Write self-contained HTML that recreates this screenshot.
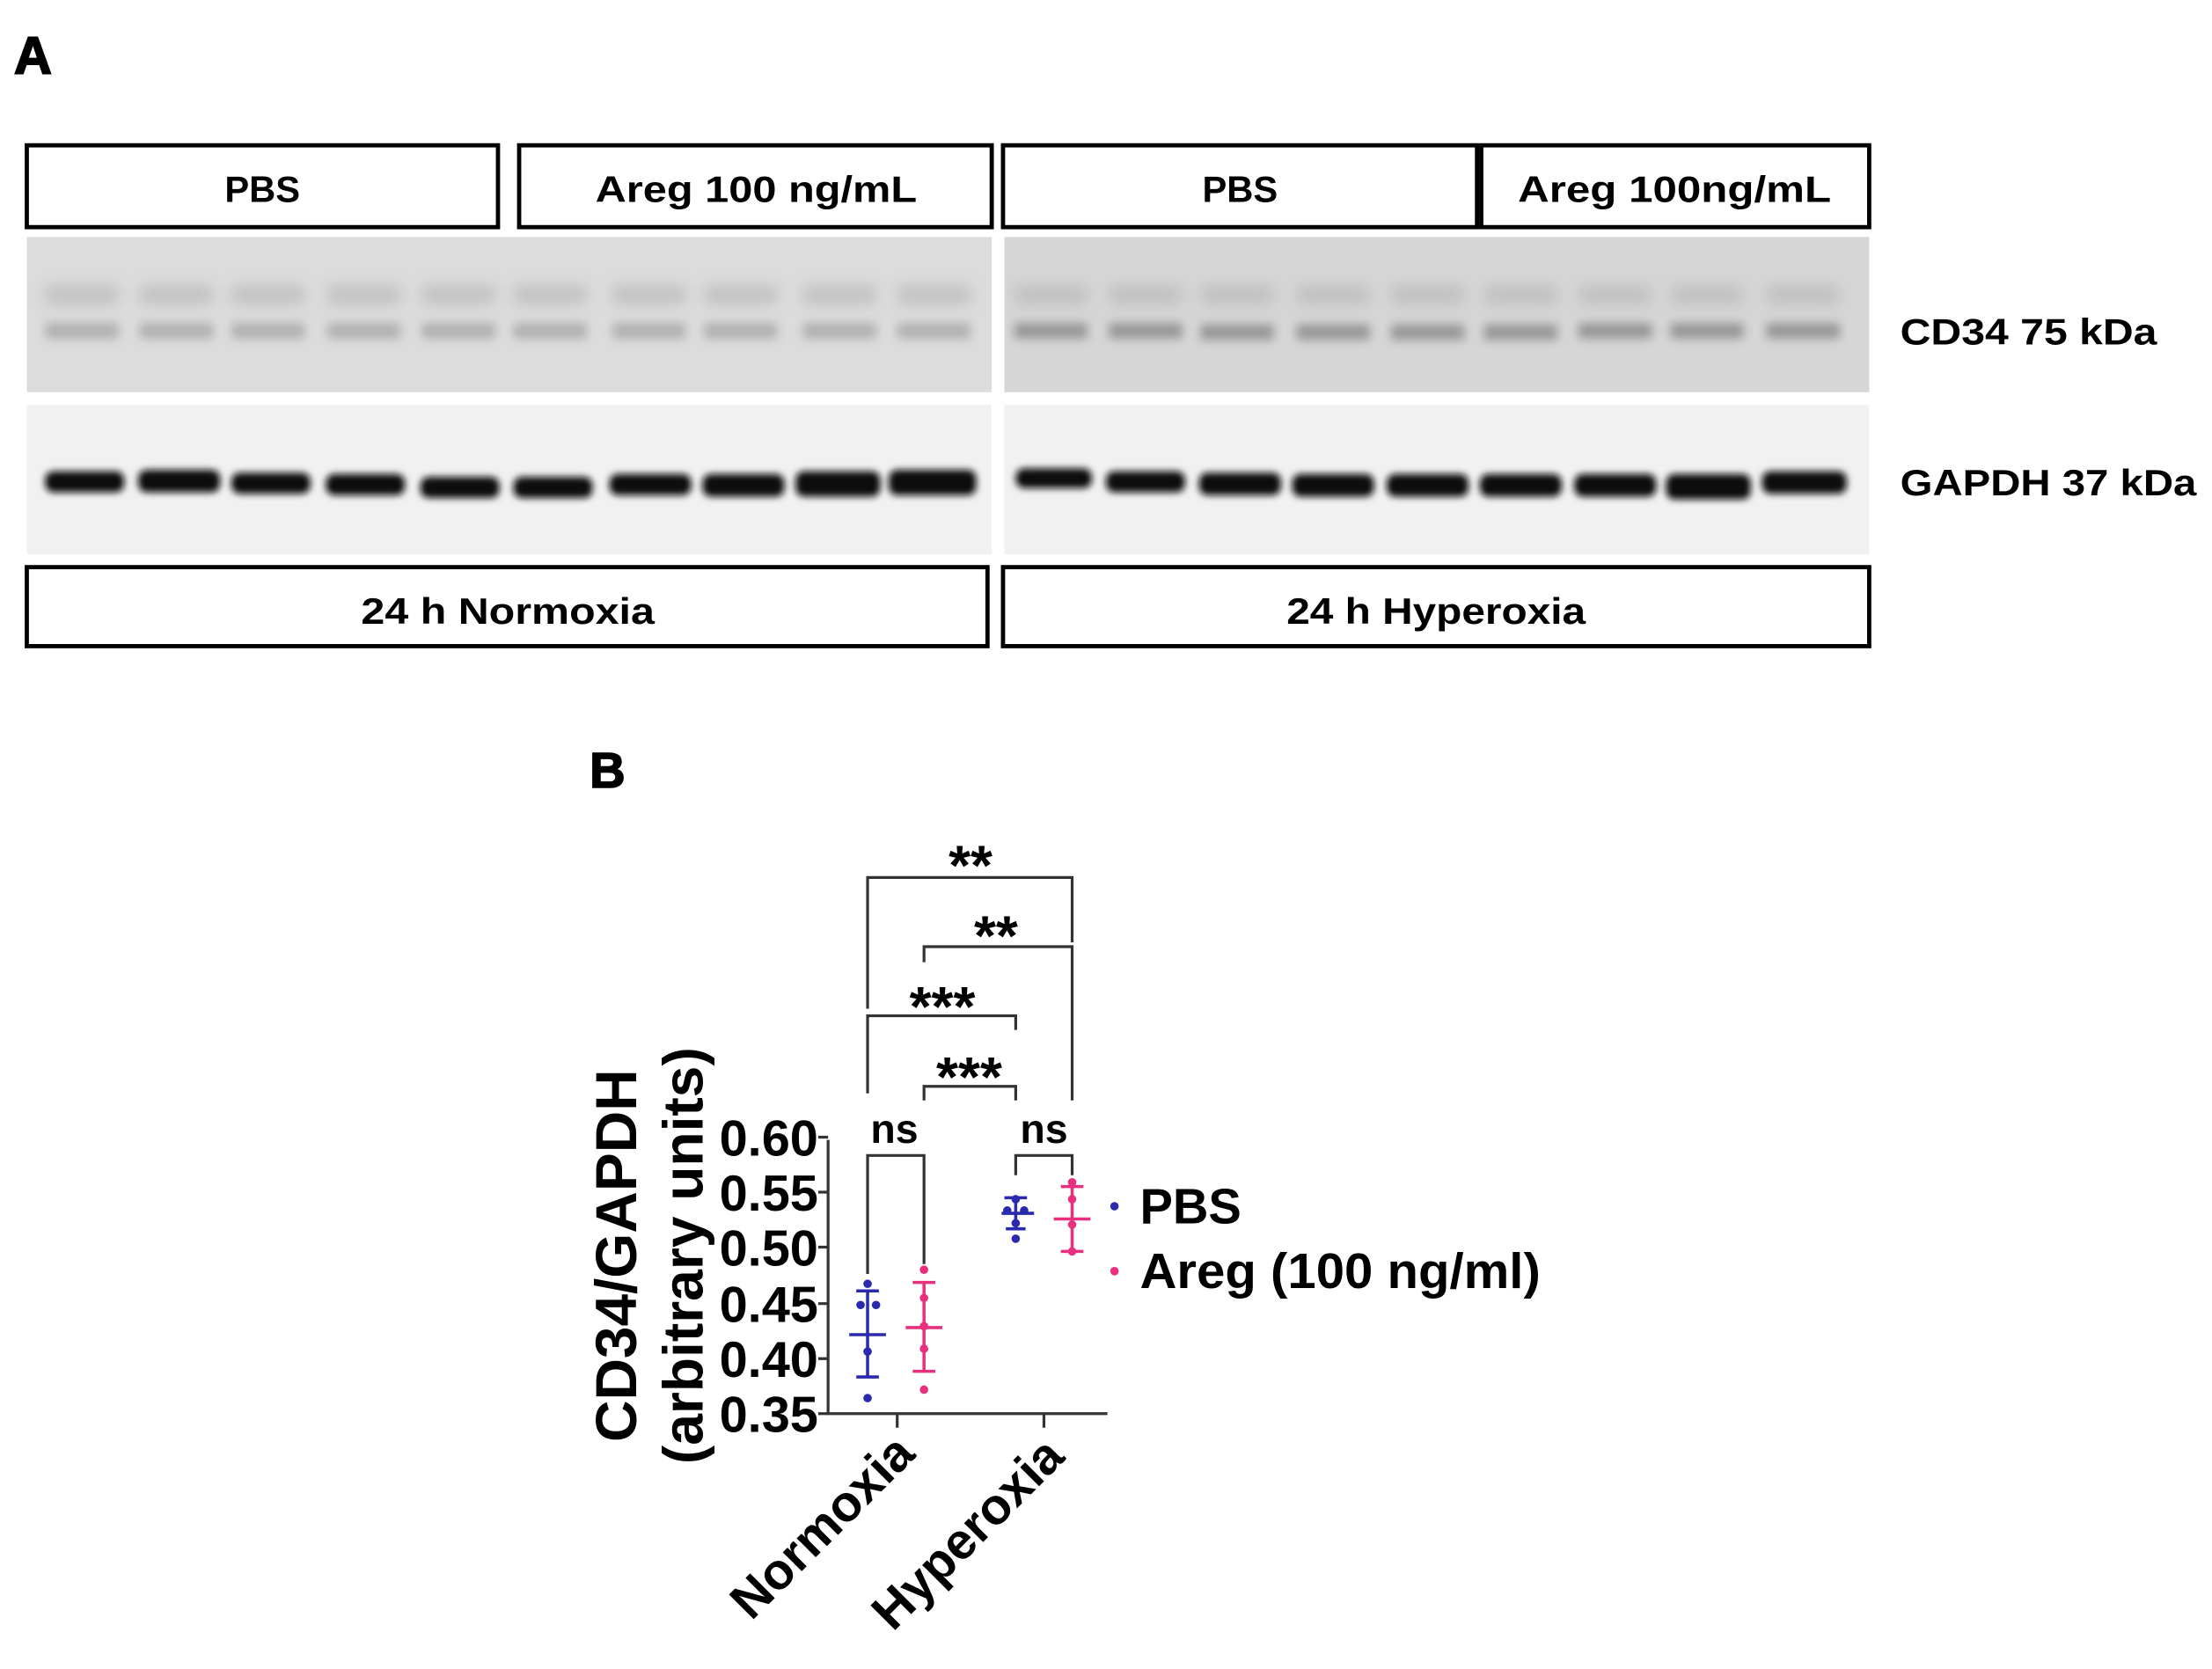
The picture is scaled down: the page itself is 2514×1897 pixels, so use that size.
<!DOCTYPE html>
<html><head><meta charset="utf-8"><style>
html,body{margin:0;padding:0;background:#fff;}
svg{display:block;}
.a{font-family:"Liberation Sans",sans-serif;font-weight:bold;}
</style></head><body>
<svg width="2514" height="1897" viewBox="0 0 1568 1183" preserveAspectRatio="none" xmlns="http://www.w3.org/2000/svg">
<defs>
<filter id="bl" x="-20%" y="-100%" width="140%" height="300%"><feGaussianBlur stdDeviation="2.5"/></filter>
<filter id="bl2" x="-20%" y="-100%" width="140%" height="300%"><feGaussianBlur stdDeviation="5"/></filter>
<filter id="bl3" x="-20%" y="-100%" width="140%" height="300%"><feGaussianBlur stdDeviation="3.5"/></filter>
</defs>
<text x="10" y="52" class="a" font-size="37" stroke="#000" stroke-width="1.2">A</text>
<g fill="#fff" stroke="#000" stroke-width="3">
<rect x="19" y="103" width="334" height="58"/>
<rect x="368" y="103" width="335" height="58"/>
<rect x="711" y="103" width="336" height="58"/>
<rect x="1050" y="103" width="275" height="58"/>
<rect x="19" y="402" width="681" height="56"/>
<rect x="711" y="402" width="614" height="56"/>
</g>
<g class="a" font-size="26" text-anchor="middle">
<text x="186" y="143">PBS</text>
<text x="536" y="143" textLength="228" lengthAdjust="spacingAndGlyphs">Areg 100 ng/mL</text>
<text x="879" y="143">PBS</text>
<text x="1187" y="143" textLength="222" lengthAdjust="spacingAndGlyphs">Areg 100ng/mL</text>
<text x="360" y="442" textLength="208" lengthAdjust="spacingAndGlyphs">24 h Normoxia</text>
<text x="1018" y="442" textLength="212" lengthAdjust="spacingAndGlyphs">24 h Hyperoxia</text>
</g>
<rect x="19" y="168" width="684" height="110" fill="#dcdcdc"/>
<rect x="712" y="168" width="613" height="110" fill="#d6d6d6"/>
<rect x="19" y="287" width="684" height="106" fill="#f1f1f1"/>
<rect x="712" y="287" width="613" height="106" fill="#f1f1f1"/>
<g filter="url(#bl2)" fill="#bcbcbc" opacity="0.8">
<rect x="32" y="202" width="52" height="14"/><rect x="99" y="202" width="52" height="14"/><rect x="164" y="202" width="52" height="14"/><rect x="232" y="202" width="52" height="14"/><rect x="299" y="202" width="52" height="14"/><rect x="364" y="202" width="52" height="14"/><rect x="434" y="202" width="52" height="14"/><rect x="499" y="202" width="52" height="14"/><rect x="569" y="202" width="52" height="14"/><rect x="636" y="202" width="52" height="14"/>
<rect x="719" y="202" width="52" height="14"/><rect x="786" y="202" width="52" height="14"/><rect x="851" y="202" width="52" height="14"/><rect x="919" y="202" width="52" height="14"/><rect x="986" y="202" width="52" height="14"/><rect x="1052" y="202" width="52" height="14"/><rect x="1119" y="202" width="52" height="14"/><rect x="1184" y="202" width="52" height="14"/><rect x="1252" y="202" width="52" height="14"/>
</g>
<g filter="url(#bl3)" fill="#b0b0b0">
<rect x="32" y="229" width="52" height="11"/><rect x="99" y="229" width="52" height="11"/><rect x="164" y="229" width="52" height="11"/><rect x="232" y="229" width="52" height="11"/><rect x="299" y="229" width="52" height="11"/><rect x="364" y="229" width="52" height="11"/><rect x="434" y="229" width="52" height="11"/><rect x="499" y="229" width="52" height="11"/><rect x="569" y="229" width="52" height="11"/><rect x="636" y="229" width="52" height="11"/>
</g>
<g filter="url(#bl3)" fill="#969696">
<rect x="719" y="229" width="52" height="11"/><rect x="786" y="229" width="52" height="11"/><rect x="851" y="230" width="52" height="11"/><rect x="919" y="230" width="52" height="11"/><rect x="986" y="230" width="52" height="11"/><rect x="1052" y="230" width="52" height="11"/><rect x="1119" y="229" width="52" height="11"/><rect x="1184" y="229" width="52" height="11"/><rect x="1252" y="229" width="52" height="11"/>
</g>
<g fill="#111" filter="url(#bl)">
<rect x="32" y="334" width="56" height="15" rx="6"/><rect x="98" y="333" width="58" height="16" rx="6"/><rect x="164" y="335" width="56" height="15" rx="6"/><rect x="231" y="336" width="56" height="15" rx="6"/><rect x="298" y="338" width="56" height="15" rx="6"/><rect x="364" y="338" width="56" height="15" rx="6"/><rect x="432" y="336" width="58" height="15" rx="6"/><rect x="498" y="336" width="58" height="16" rx="6"/><rect x="564" y="334" width="60" height="18" rx="6"/><rect x="630" y="333" width="62" height="18" rx="6"/>
<rect x="720" y="332" width="54" height="14" rx="6"/><rect x="784" y="334" width="56" height="15" rx="6"/><rect x="850" y="335" width="58" height="16" rx="6"/><rect x="916" y="336" width="58" height="16" rx="6"/><rect x="983" y="336" width="58" height="16" rx="6"/><rect x="1049" y="336" width="58" height="16" rx="6"/><rect x="1116" y="336" width="58" height="16" rx="6"/><rect x="1181" y="336" width="60" height="18" rx="6"/><rect x="1249" y="334" width="60" height="16" rx="6"/>
</g>
<text x="1347" y="244" class="a" font-size="26" textLength="182" lengthAdjust="spacingAndGlyphs">CD34 75 kDa</text>
<text x="1347" y="351" class="a" font-size="26" textLength="210" lengthAdjust="spacingAndGlyphs">GAPDH 37 kDa</text>

<text x="418" y="558" class="a" font-size="35" stroke="#000" stroke-width="1">B</text>
<g stroke="#333" stroke-width="2" fill="none">
<path d="M587 808 V1002 H785"/>
<path d="M580 806H587M580 845H587M580 884H587M580 924H587M580 963H587M580 1002H587"/>
<path d="M636 1002V1012M740 1002V1012"/>
<path d="M615 903V819H655V896"/>
<path d="M720 833V819H760V833"/>
<path d="M655 780V770H720V780"/>
<path d="M615 775V720H720V730"/>
<path d="M655 682V671H760V780"/>
<path d="M615 715V622H760V668"/>
</g>
<g class="a" font-size="36" text-anchor="end">
<text x="580" y="819">0.60</text><text x="580" y="858">0.55</text><text x="580" y="897">0.50</text><text x="580" y="937">0.45</text><text x="580" y="976">0.40</text><text x="580" y="1015">0.35</text>
</g>
<g class="a" font-size="29" text-anchor="middle">
<text x="634" y="810">ns</text><text x="740" y="810">ns</text>
<g font-size="40">
<text x="687" y="777">***</text>
<text x="668" y="727">***</text>
<text x="706" y="677">**</text>
<text x="688" y="627">**</text>
</g>
</g>
<text class="a" font-size="41" text-anchor="middle" transform="translate(451,890) rotate(-90)">CD34/GAPDH</text>
<text class="a" font-size="40" text-anchor="middle" transform="translate(498,890) rotate(-90)">(arbitrary units)</text>
<text class="a" font-size="36" text-anchor="end" transform="translate(650,1032) rotate(-45)">Normoxia</text>
<text class="a" font-size="36" text-anchor="end" transform="translate(756,1034) rotate(-45)">Hyperoxia</text>
<g stroke="#2a2aae" stroke-width="2.2" fill="#2a2aae">
<path d="M615 915V976M607 915H623M607 976H623M602 946H628"/>
<path d="M720 849V860M712 849H728M710 860H733M720 860V871M713 871H727"/>
<g stroke="none">
<circle cx="615" cy="910" r="3"/><circle cx="610" cy="925" r="3"/><circle cx="621" cy="925" r="3"/><circle cx="615" cy="958" r="3"/><circle cx="615" cy="991" r="3"/>
<circle cx="720" cy="850" r="3"/><circle cx="714" cy="858" r="3"/><circle cx="726" cy="858" r="3"/><circle cx="720" cy="867" r="3"/><circle cx="720" cy="878" r="3"/>
<circle cx="790" cy="855" r="3"/>
</g></g>
<g stroke="#e8307f" stroke-width="2.2" fill="#e8307f">
<path d="M655 909V972M647 909H663M647 972H663M642 941H668"/>
<path d="M760 841V887M752 841H768M752 887H768M747 864H773"/>
<g stroke="none">
<circle cx="655" cy="900" r="3"/><circle cx="655" cy="920" r="3"/><circle cx="655" cy="940" r="3"/><circle cx="655" cy="956" r="3"/><circle cx="655" cy="985" r="3"/>
<circle cx="760" cy="838" r="3"/><circle cx="760" cy="850" r="3"/><circle cx="760" cy="868" r="3"/><circle cx="760" cy="887" r="3"/>
<circle cx="790" cy="901" r="3"/>
</g></g>
<text x="808" y="867" class="a" font-size="35">PBS</text>
<text x="808" y="913" class="a" font-size="35" textLength="284" lengthAdjust="spacingAndGlyphs">Areg (100 ng/ml)</text>
</svg>
</body></html>
